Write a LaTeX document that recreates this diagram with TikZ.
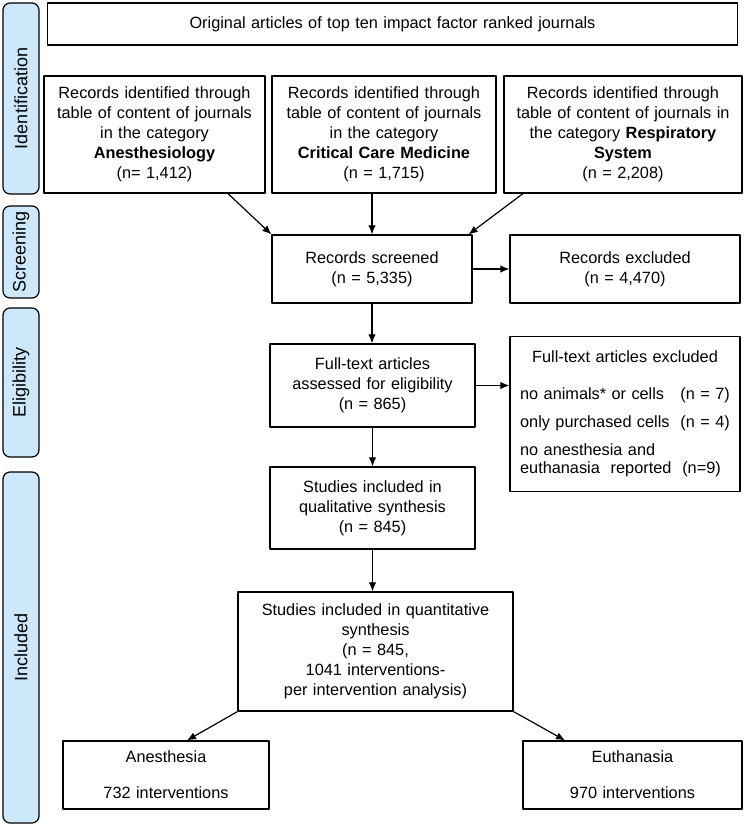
\documentclass[tikz,border=0pt]{standalone}
\usepackage{fontspec}
\setmainfont{Liberation Sans}
\usepackage{tikz}
\usetikzlibrary{positioning,arrows.meta}
\definecolor{phaseblue}{RGB}{204,232,250}

\begin{document}
\begin{tikzpicture}[>={Latex[length=9bp,width=7.5bp]},line join=bevel,line width=1.2bp,
  box/.style={draw,align=center,inner sep=0pt,font=\fontsize{16.3bp}{20bp}\selectfont},
  phase/.style={draw,fill=phaseblue,rounded corners=7bp,rotate=90,inner sep=0pt,font=\fontsize{18bp}{22bp}\selectfont},
]
\useasboundingbox (0bp,0bp) rectangle (745bp,827bp);
%%
\node (ident) at (21bp,728.5bp) [phase,minimum width=191bp,minimum height=36bp] {Identification};
  \node (screen) at (21bp,575bp) [phase,minimum width=92bp,minimum height=36bp] {Screening};
  \node (elig) at (21bp,444.5bp) [phase,minimum width=149bp,minimum height=36bp] {Eligibility};
  \node (incl) at (21bp,179.5bp) [phase,minimum width=351bp,minimum height=36bp] {Included};
%
\node (top) at (392.5bp,803bp) [box,text width=690bp,minimum height=42bp] {Original articles of top ten impact factor ranked journals};
  \node (rec1) at (154.5bp,692.5bp) [box,text width=221bp,minimum height=117bp] {Records identified through\\table of content of journals\\in the category\\\textbf{Anesthesiology}\\(n= 1,412)};
  \node (rec2) at (384bp,692.5bp) [box,text width=224bp,minimum height=117bp] {Records identified through\\table of content of journals\\in the category\\\textbf{Critical Care Medicine}\\(n = 1,715)};
  \node (rec3) at (623bp,692.5bp) [box,text width=238bp,minimum height=117bp] {Records identified through\\table of content of journals in\\the category \textbf{Respiratory}\\\textbf{System}\\(n = 2,208)};
  \node (screened) at (372bp,558bp) [box,text width=200bp,minimum height=68bp] {Records screened\\(n = 5,335)};
  \node (excl) at (625bp,558bp) [box,text width=230bp,minimum height=68bp] {Records excluded\\(n = 4,470)};
  \node (fulltext) at (372.5bp,441.5bp) [box,text width=205bp,minimum height=83bp] {Full-text articles\\assessed for eligibility\\(n = 865)};
  \node (ftexcl) at (625bp,413bp) [box,text width=230bp,minimum height=155bp] {\begin{tabular}{@{}l@{}}
    \multicolumn{1}{c}{Full-text articles excluded}\\[17bp]
    no animals* or cells \ \ (n = 7)\\[8bp]
    only purchased cells \ (n = 4)\\[8bp]
    no anesthesia and\\[-2bp]
    euthanasia \ reported \ (n=9)
  \end{tabular}};
  \node (qual) at (372.5bp,319bp) [box,text width=205bp,minimum height=82bp] {Studies included in\\qualitative synthesis\\(n = 845)};
  \node (quant) at (375.5bp,175.5bp) [box,text width=275bp,minimum height=119bp] {Studies included in quantitative\\synthesis\\(n = 845,\\1041 interventions-\\per intervention analysis)};
  \node (anest) at (166bp,52bp) [box,text width=206bp,minimum height=68bp] {Anesthesia\\[16bp]732 interventions};
  \node (euth) at (632.5bp,52bp) [box,text width=219bp,minimum height=68bp] {Euthanasia\\[16bp]970 interventions};
%
  \draw [->] ([xshift=73.5bp]rec1.south) -- (screened.north west);
  \draw [->] (rec2.south -| screened.north) -- (screened.north);
  \draw [->] ([xshift=-100bp]rec3.south) -- ([xshift=-4bp]screened.north east);
  \draw [->] (screened) -- (excl);
  \draw [->] (screened.south) -- (screened.south |- fulltext.north);
  \draw [->] (fulltext.east) -- (fulltext.east -| ftexcl.west);
  \draw [->] (fulltext.south) -- (qual.north);
  \draw [->] (qual.south) -- (qual.south |- quant.north);
  \draw [->] (quant.south west) -- ([xshift=21bp]anest.north);
  \draw [->] (quant.south east) -- ([xshift=-67.5bp]euth.north);
%
\end{tikzpicture}
\end{document}
